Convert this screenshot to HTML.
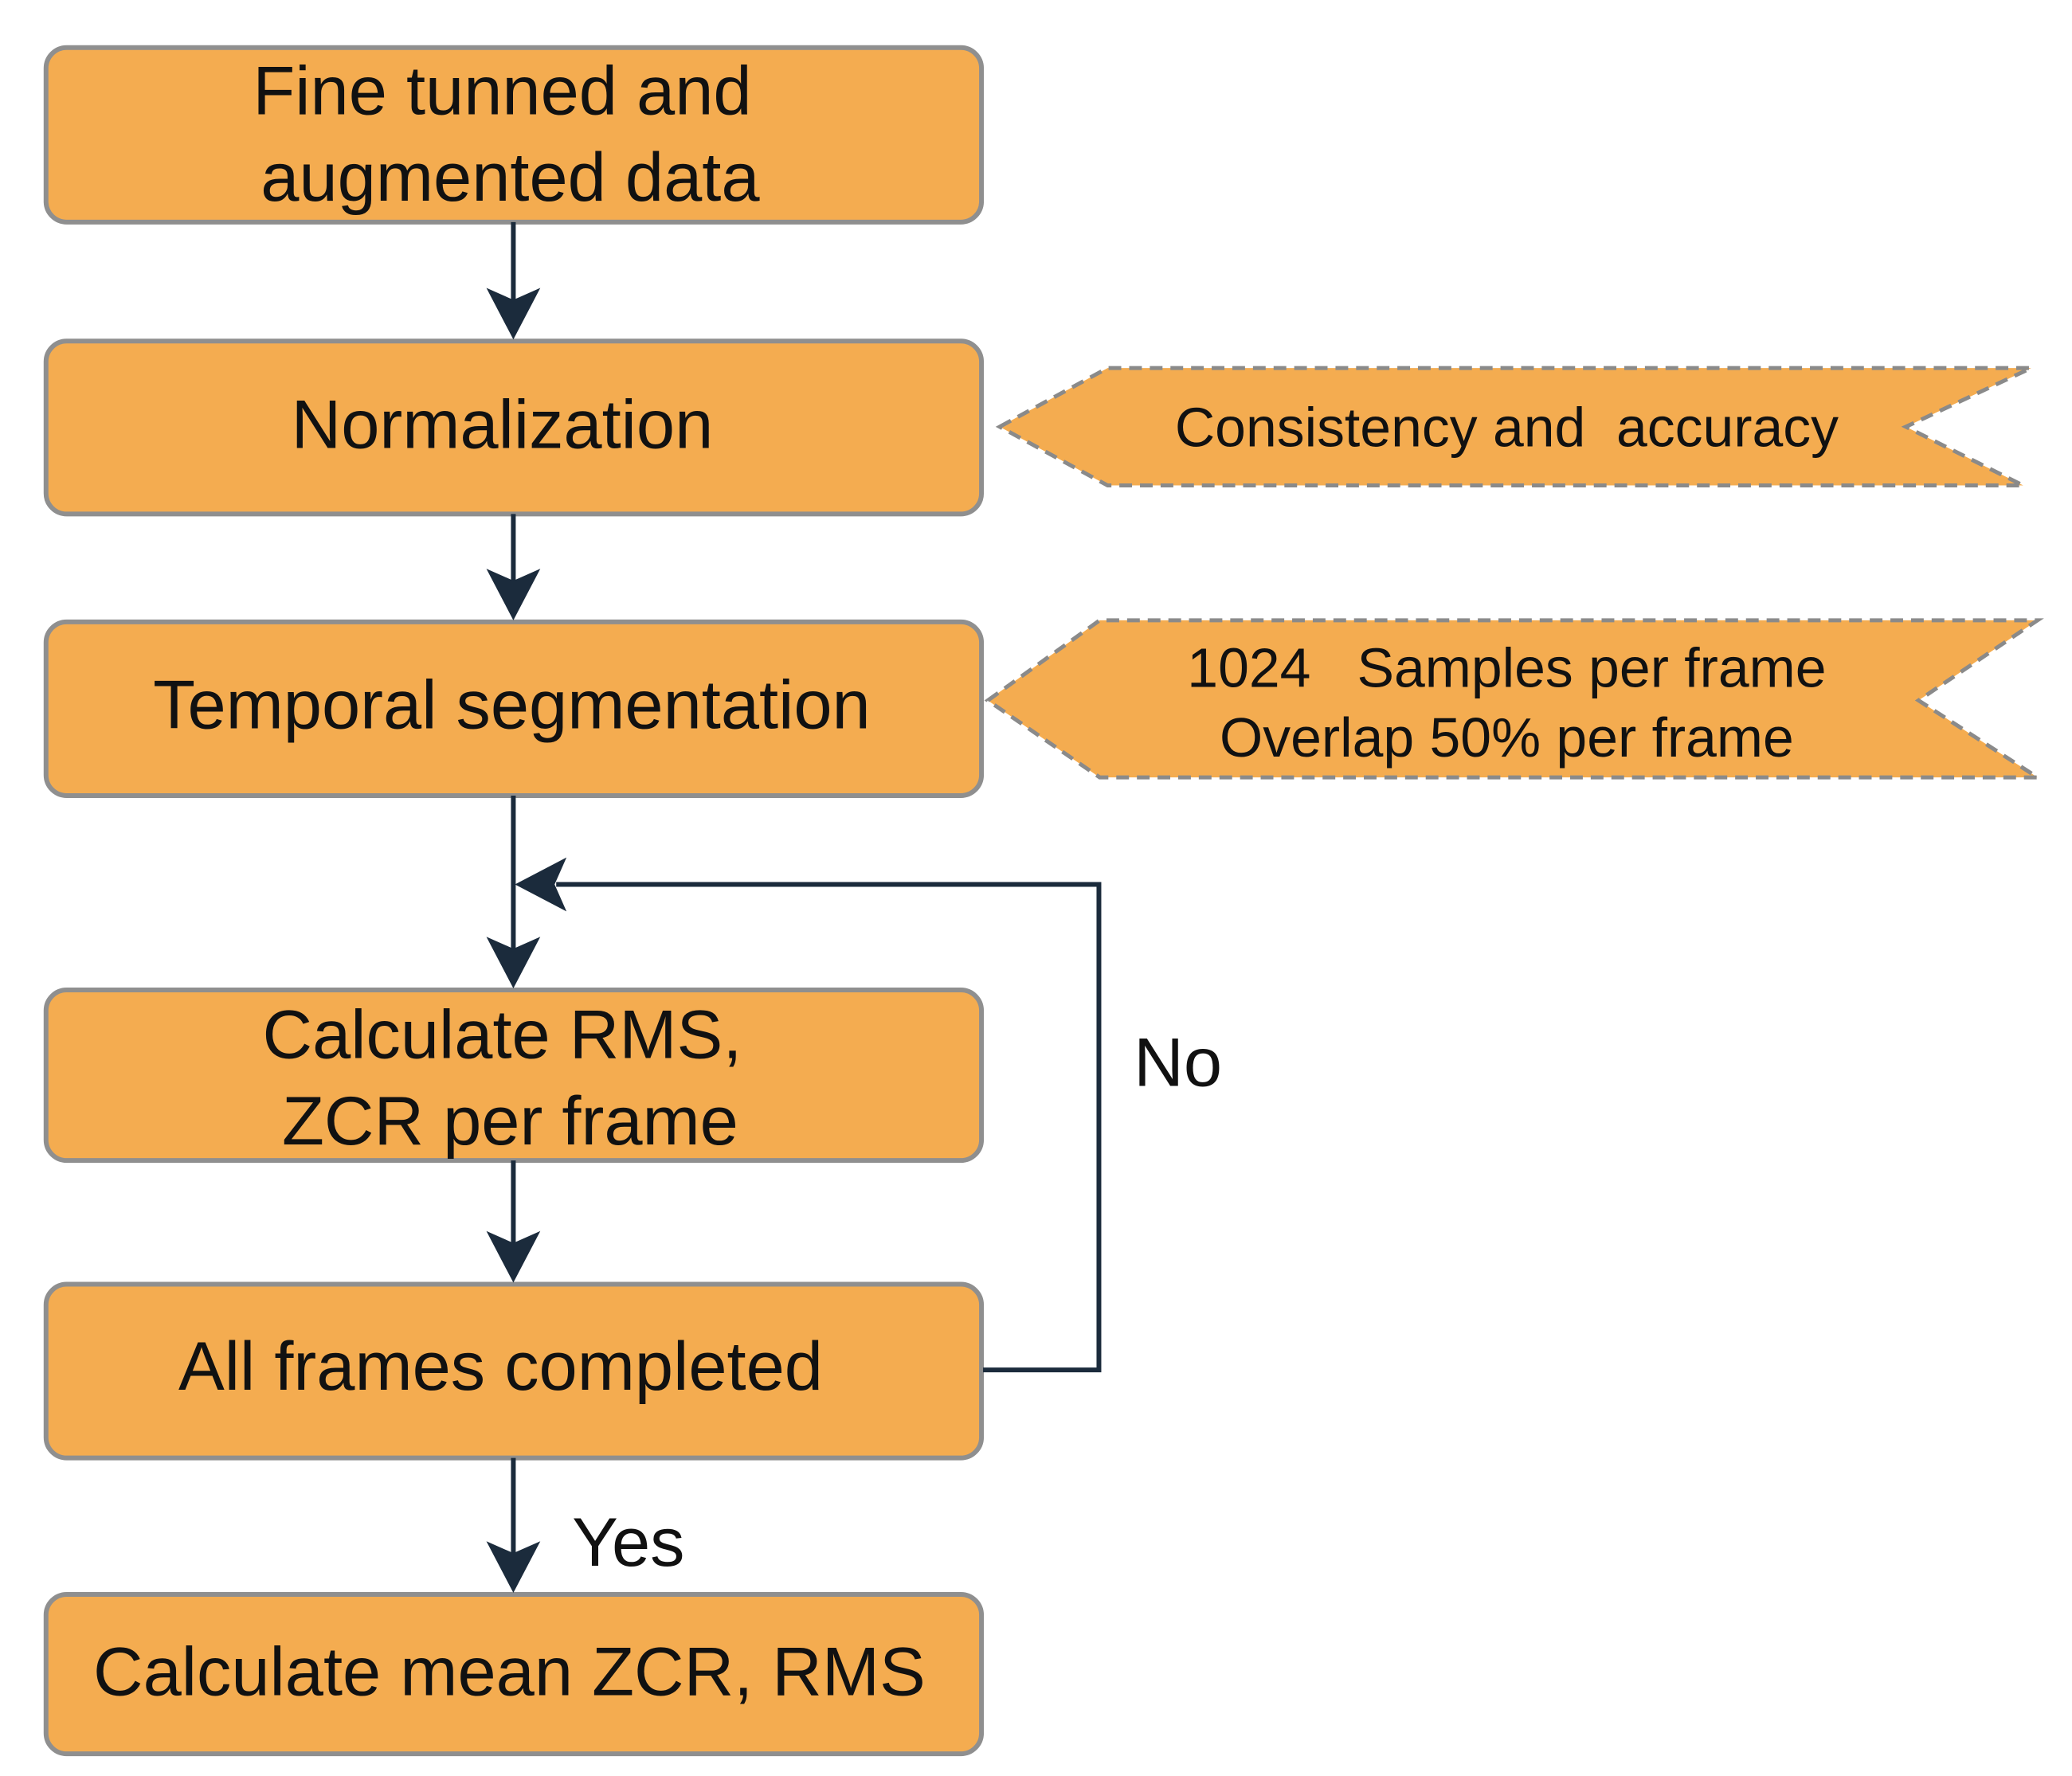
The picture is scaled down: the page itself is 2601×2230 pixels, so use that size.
<!DOCTYPE html>
<html><head><meta charset="utf-8"><style>
html,body{margin:0;padding:0;background:#fff;}
svg{display:block;}
text{font-family:"Liberation Sans",Arial,sans-serif;fill:#111;}
</style></head><body>
<svg width="2601" height="2230" viewBox="0 0 2601 2230" xmlns="http://www.w3.org/2000/svg">
<defs>
<g id="ad"><path d="M0 0 L-34 -65 L0 -50 L34 -65 Z" fill="#1b2b3c"/></g>
</defs>
<g transform="translate(1,0) scale(0.996)">
<g fill="#F4AC50" stroke="#8f8f8f" stroke-width="6">
<rect x="57" y="60" width="1179" height="220" rx="26"/>
<rect x="57" y="430" width="1179" height="218" rx="26"/>
<rect x="57" y="784" width="1179" height="219" rx="26"/>
<rect x="57" y="1248" width="1179" height="215" rx="26"/>
<rect x="57" y="1619" width="1179" height="219" rx="26"/>
<rect x="57" y="2010" width="1179" height="201" rx="26"/>
</g>
<g fill="#F4AC50" stroke="#8a8a8a" stroke-width="5" stroke-dasharray="16 10">
<path d="M1259 538 L1395 464 L2559 464 L2401 538 L2549 612 L1395 612 Z"/>
<path d="M1244 883 L1385 782 L2567 782 L2417 883 L2567 980 L1385 980 Z"/>
</g>
<g stroke="#1b2b3c" stroke-width="6" fill="none">
<line x1="646" y1="280" x2="646" y2="380"/>
<line x1="646" y1="648" x2="646" y2="740"/>
<line x1="646" y1="1003" x2="646" y2="1200"/>
<line x1="646" y1="1463" x2="646" y2="1570"/>
<line x1="646" y1="1838" x2="646" y2="1960"/>
<polyline points="1238,1727 1384,1727 1384,1115 700,1115"/>
</g>
<use href="#ad" x="646" y="428"/>
<use href="#ad" x="646" y="782"/>
<use href="#ad" x="646" y="1246"/>
<use href="#ad" x="646" y="1617"/>
<use href="#ad" x="646" y="2008"/>
<use href="#ad" transform="translate(648,1115) rotate(90)"/>
<g font-size="87" text-anchor="middle">
<text x="632" y="144">Fine tunned and</text>
<text x="642" y="253">augmented data</text>
<text x="632" y="565">Normalization</text>
<text x="644" y="918">Temporal segmentation</text>
<text x="632" y="1334">Calculate RMS,</text>
<text x="642" y="1443">ZCR per frame</text>
<text x="630" y="1752">All frames completed</text>
<text x="641" y="2137">Calculate mean ZCR, RMS</text>
</g>
<g font-size="87">
<text x="1428" y="1369">No</text>
<text x="720" y="1974">Yes</text>
</g>
<g font-size="70" text-anchor="middle">
<text x="1898" y="563" xml:space="preserve">Consistency and  accuracy</text>
<text x="1898" y="866" xml:space="preserve">1024   Samples per frame</text>
<text x="1898" y="954">Overlap 50% per frame</text>
</g>
</g>
</svg>
</body></html>
